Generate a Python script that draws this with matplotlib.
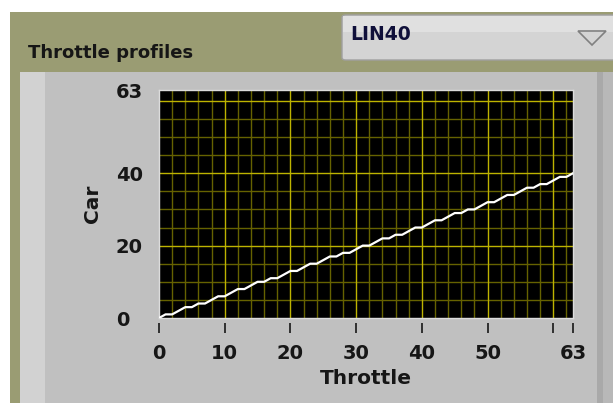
import matplotlib
matplotlib.use("Agg")
import numpy as np
from matplotlib import pyplot as plt
from matplotlib.patches import Rectangle, FancyBboxPatch, Polygon

plt.rcParams['font.family'] = ['DejaVu Sans']

# throttle -> car mapping (LIN40 profile)
throttle = list(range(64))
car = [0, 1, 1, 2, 3, 3, 4, 4, 5, 6, 6, 7, 8, 8, 9, 10,
       10, 11, 11, 12, 13, 13, 14, 15, 15, 16, 17, 17, 18, 18, 19, 20,
       20, 21, 22, 22, 23, 23, 24, 25, 25, 26, 27, 27, 28, 29, 29, 30,
       30, 31, 32, 32, 33, 34, 34, 35, 36, 36, 37, 37, 38, 39, 39, 40]
x_ticks = [0, 10, 20, 30, 40, 50, 60, 63]
x_labels = ['0', '10', '20', '30', '40', '50', '', '63']
y_ticks = [0, 20, 40, 63]
y_labels = ['0', '20', '40', '63']
profile = "LIN40"

W, H = 613, 403
TXT = '#161616'
FS = 13
TFS = 14
LFS = 14.5


def box(x0, y0, x1, y1):
    # pixel box -> figure fractions
    return x0 / W, 1 - y1 / H, (x1 - x0) / W, (y1 - y0) / H


fig = plt.figure(figsize=(W / 100, H / 100), dpi=100)
fig.patch.set_facecolor('white')

def rect(x0, y0, x1, y1, color, z=-10):
    l, b, w, h = box(x0, y0, x1, y1)
    fig.patches.append(Rectangle((l, b), w, h, transform=fig.transFigure,
                                 facecolor=color, edgecolor='none', zorder=z))

rect(10, 12, W, H, '#9a9c73')
rect(20, 72, 600, H, '#c0c0c0')
rect(20, 72, 45, H, '#d2d2d2')
rect(597, 72, W, H, '#a9a9a9')
rect(603, 72, W, H, '#b8b8b8')

# dropdown
l, b, w, h = box(342, 15, 640, 60)
fig.patches.append(FancyBboxPatch((l, b), w, h, boxstyle='round,pad=0,rounding_size=0.006',
                                  transform=fig.transFigure, facecolor='#d4d4d4',
                                  edgecolor='#a0a0a0', linewidth=1, zorder=-9))
rect(343, 16, W, 32, '#e0e0e0', -8)
tri = [(578 / W, 1 - 31 / H), (606 / W, 1 - 31 / H), (592 / W, 1 - 45 / H)]
fig.patches.append(Polygon(tri, closed=True, transform=fig.transFigure, facecolor='none',
                           edgecolor='#808080', linewidth=1.2, zorder=-7))
fig.text(350 / W, 1 - 35 / H, profile, fontsize=13.5, fontweight='bold', color='#10103a',
         va='center', ha='left')

fig.text(28 / W, 1 - 53 / H, "Throttle profiles", fontsize=FS, fontweight='bold',
         color=TXT, va='center', ha='left')

ax = fig.add_axes(box(159, 90, 573, 318))
ax.set_zorder(5)
ax.set_facecolor('black')
ax.set_xlim(0, 63)
ax.set_ylim(0, 63)

for v in range(2, 63, 2):
    if v % 10:
        ax.axvline(v, color='#666200', lw=1, zorder=1)
for v in range(5, 63, 5):
    if v % 20:
        ax.axhline(v, color='#666200', lw=1, zorder=1)
for v in range(10, 63, 10):
    ax.axvline(v, color='#bdb300', lw=1, zorder=2)
for v in range(20, 63, 20):
    ax.axhline(v, color='#bdb300', lw=1, zorder=2)

ax.plot(throttle, car, color='white', lw=1.6, zorder=3)

for s in ax.spines.values():
    s.set_color('#dcdcdc')
    s.set_linewidth(1)

ax.set_xticks(x_ticks)
ax.set_xticklabels(x_labels)
ax.tick_params(axis='x', length=0, pad=19, labelsize=TFS, labelcolor=TXT)
for t in ax.get_xticklabels():
    t.set_fontweight('bold')
ax.vlines(x_ticks, -0.022, -0.066, transform=ax.get_xaxis_transform(),
          colors='#303030', lw=1.4, clip_on=False)

ax.set_yticks(y_ticks)
ax.set_yticklabels(y_labels)
ax.tick_params(axis='y', length=0, pad=31, labelsize=TFS, labelcolor=TXT)
for t in ax.get_yticklabels():
    t.set_fontweight('bold')
    t.set_ha('left')

ax.set_xlabel("Throttle", fontsize=LFS, fontweight='bold', color=TXT, labelpad=4)
ax.set_ylabel("Car", fontsize=LFS, fontweight='bold', color=TXT, labelpad=10)

fig.savefig("out.png", dpi=100)
